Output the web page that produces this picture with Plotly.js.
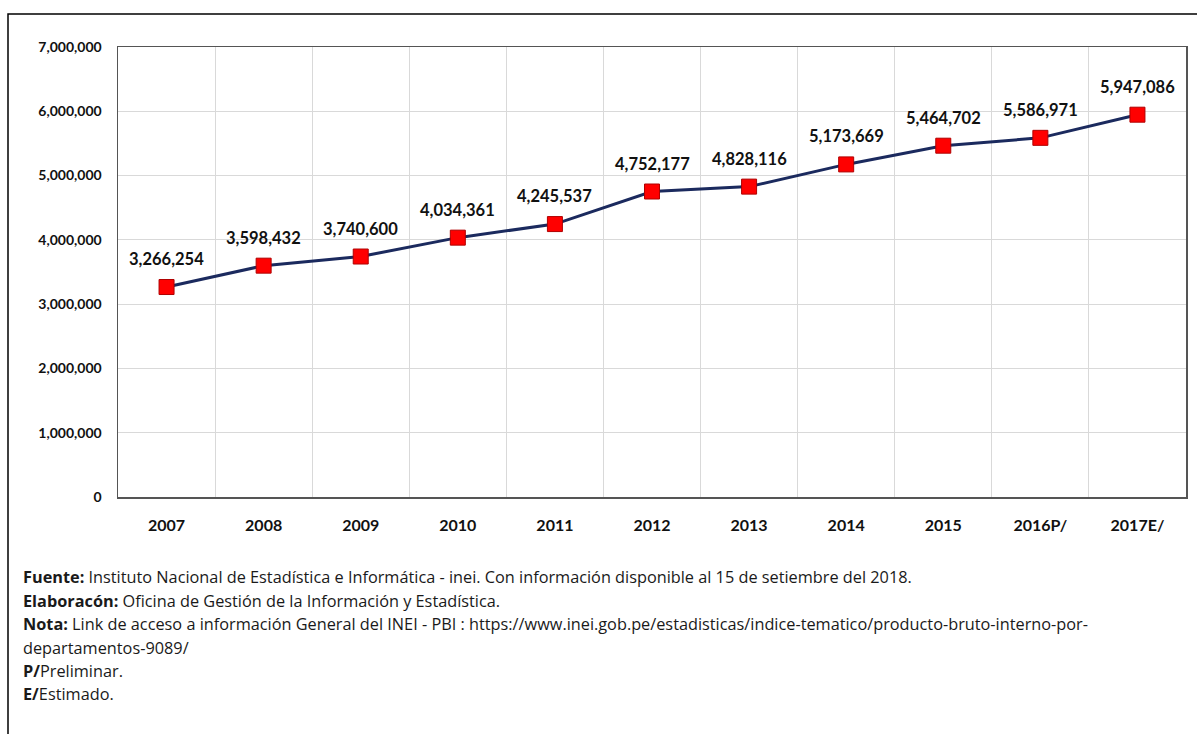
<!DOCTYPE html>
<html>
<head>
<meta charset="utf-8">
<script src="https://cdn.plot.ly/plotly-3.0.1.min.js"></script>
<style>
html,body{margin:0;padding:0;background:#fff;}
#chart{width:1197px;height:734px;}
</style>
</head>
<body>
<div id="chart"></div>
<script>
const years = ["2007","2008","2009","2010","2011","2012","2013","2014","2015","2016P/","2017E/"];
const pbi = [3266254,3598432,3740600,4034361,4245537,4752177,4828116,5173669,5464702,5586971,5947086];
const yTicks = [0,1000000,2000000,3000000,4000000,5000000,6000000,7000000];
const notes = [
  "<b>Fuente:</b> Instituto Nacional de Estadística e Informática - inei. Con información disponible al 15 de setiembre del 2018.",
  "<b>Elaboracón:</b> Oficina de Gestión de la Información y Estadística.",
  "<b>Nota:</b> Link de acceso a información General del INEI - PBI : https://www.inei.gob.pe/estadisticas/indice-tematico/producto-bruto-interno-por-",
  "departamentos-9089/",
  "<b>P/</b>Preliminar.",
  "<b>E/</b>Estimado."
];

const W = 1197, H = 734;
const M = {l:118, r:11, t:47, b:237};
const pw = W - M.l - M.r, ph = H - M.t - M.b;
const px2x = p => (p - M.l) / pw;
const py2y = p => (H - M.b - p) / ph;

const FONT = "Lato, 'Liberation Sans', sans-serif";
const NOTEFONT = "'Open Sans', Lato, sans-serif";

const annotations = [];
years.forEach((yr, i) => {
  annotations.push({
    x: i, y: pbi[i], xref: 'x', yref: 'y',
    text: '<b>' + pbi[i].toLocaleString('en-US') + '</b>',
    showarrow: false, yshift: 28,
    font: {family: FONT, size: 16.5, color: '#111111'}
  });
});
const noteY = [577, 601, 624, 648, 671, 694];
notes.forEach((t, i) => {
  annotations.push({
    x: px2x(21), y: py2y(noteY[i]), xref: 'paper', yref: 'paper',
    xanchor: 'left', yanchor: 'middle', align: 'left',
    text: t, showarrow: false,
    font: {family: NOTEFONT, size: 16.3, color: '#1a1a1a'}
  });
});

const trace = {
  x: years, y: pbi, type: 'scatter', mode: 'lines+markers',
  line: {color: '#1b2a5e', width: 3},
  marker: {symbol: 'square', size: 15, color: '#ff0000', line: {color: '#b00000', width: 1}},
  hoverinfo: 'skip'
};

const layout = {
  width: W, height: H,
  margin: M,
  paper_bgcolor: '#ffffff', plot_bgcolor: '#ffffff',
  showlegend: false,
  font: {family: FONT, color: '#1a1a1a'},
  xaxis: {
    type: 'category', range: [-0.5, 10.5],
    tickson: 'boundaries', showgrid: true, gridcolor: '#d9d9d9', gridwidth: 1,
    showline: true, mirror: true, linecolor: '#555555', linewidth: 1.5,
    ticks: '', ticklabelstandoff: 13,
    tickfont: {family: FONT, size: 16, color: '#111111', weight: 'bold'},
    fixedrange: true, zeroline: false
  },
  yaxis: {
    range: [0, 7000000], tickvals: yTicks, tickformat: ',d',
    showgrid: true, gridcolor: '#d9d9d9', gridwidth: 1,
    showline: true, mirror: true, linecolor: '#555555', linewidth: 1.5,
    ticks: '', ticklabelstandoff: 12, zeroline: false,
    tickfont: {family: FONT, size: 14, color: '#111111', weight: 'bold'},
    fixedrange: true
  },
  shapes: [{
    type: 'rect', xref: 'paper', yref: 'paper',
    x0: px2x(8), x1: px2x(1210), y0: py2y(750), y1: py2y(14),
    line: {color: '#000000', width: 1.5}, fillcolor: 'rgba(0,0,0,0)', layer: 'below'
  }],
  annotations: annotations
};

Plotly.newPlot('chart', [trace], layout, {staticPlot: true, displayModeBar: false});
</script>
</body>
</html>
